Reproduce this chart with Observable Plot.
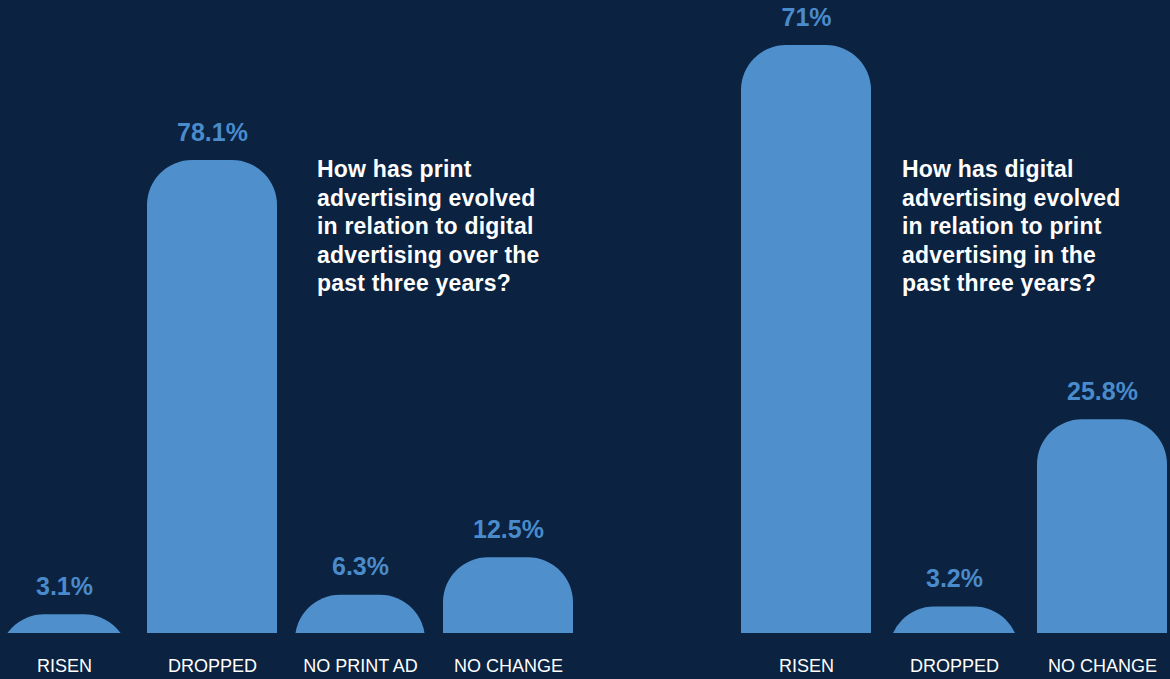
<!DOCTYPE html>
<html>
<head>
<meta charset="utf-8">
<script src="https://cdn.jsdelivr.net/npm/d3@7"></script>
<script src="https://cdn.jsdelivr.net/npm/@observablehq/plot@0.6"></script>
<style>
  html, body { margin: 0; padding: 0; background: #0b2240; }
  #wrap { position: relative; width: 1170px; height: 679px; background: #0b2240; overflow: hidden; font-family: "Liberation Sans", Arial, sans-serif; }
  .panel { position: absolute; top: 0; }
  .q { position: absolute; top: 155px; color: #ffffff; font-weight: bold; font-size: 23px; line-height: 28.5px; letter-spacing: 0.2px; }
</style>
</head>
<body>
<div id="wrap">
  <div id="left" class="panel" style="left:0px"></div>
  <div id="right" class="panel" style="left:590px"></div>
  <div class="q" style="left:317px">How has print<br>advertising evolved<br>in relation to digital<br>advertising over the<br>past three years?</div>
  <div class="q" style="left:902px">How has digital<br>advertising evolved<br>in relation to print<br>advertising in the<br>past three years?</div>
</div>
<script>
// ---- data ----
const printCategories = ["RISEN", "DROPPED", "NO PRINT AD", "NO CHANGE"];
const printValues = [3.1, 78.1, 6.3, 12.5];
const digitalCategories = ["RISEN", "DROPPED", "NO CHANGE"];
const digitalValues = [71, 3.2, 25.8];

const BAR = "#4e8fcc";
const LABEL = "#4a8bcb";

function panel(categories, values, opts) {
  const data = categories.map((c, i) => ({cat: c, value: values[i]}));
  return Plot.plot({
    width: opts.width,
    height: 679,
    marginTop: opts.marginTop,
    marginBottom: 46,
    marginLeft: 0,
    marginRight: 0,
    style: {background: "transparent", fontFamily: "Liberation Sans, Arial, sans-serif", fontSize: "18px", color: "#ffffff"},
    x: {domain: categories, range: opts.xRange, paddingInner: 18 / 148, paddingOuter: 0, tickSize: 0, tickPadding: 26, label: null},
    y: {domain: [0, d3.max(values)], axis: null},
    marks: [
      Plot.barY(data, {x: "cat", y: "value", fill: BAR, rx: 45, ry: 45, insetBottom: -120, clip: true}),
      Plot.text(data, {x: "cat", y: "value", text: d => d.value + "%", dy: -20, lineAnchor: "bottom",
        fill: LABEL, fontSize: 25, fontWeight: "bold"})
    ]
  });
}

document.getElementById("left").append(panel(printCategories, printValues, {width: 590, marginTop: 160, xRange: [-1, 573]}));
document.getElementById("right").append(panel(digitalCategories, digitalValues, {width: 580, marginTop: 45, xRange: [151, 577]}));
</script>
</body>
</html>
